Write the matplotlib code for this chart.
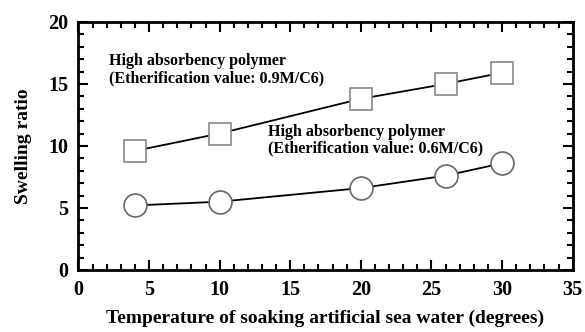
import matplotlib
matplotlib.use("Agg")
import matplotlib.pyplot as plt
from matplotlib.ticker import MultipleLocator

# Data
temperature = [4, 10, 20, 26, 30]
ratio_09 = [9.6, 11.0, 13.8, 15.0, 15.9]
ratio_06 = [5.2, 5.5, 6.6, 7.6, 8.6]

label_09 = "High absorbency polymer\n(Etherification value: 0.9M/C6)"
label_06 = "High absorbency polymer\n(Etherification value: 0.6M/C6)"

plt.rcParams['font.family'] = ['Liberation Serif', 'DejaVu Serif']
plt.rcParams['font.weight'] = 'bold'

fig = plt.figure(figsize=(5.85, 3.32), dpi=100)
ax = fig.add_axes([0.134, 0.187, 0.845, 0.747])

ax.plot(temperature, ratio_09, color='black', lw=1.3, marker='s', ms=16,
        mfc='white', mec='#888888', mew=1.2, zorder=3)
ax.plot(temperature, ratio_06, color='black', lw=1.3, marker='o', ms=16.5,
        mfc='white', mec='#666666', mew=1.2, zorder=3)

ax.text(2.2, 17.5, label_09, fontsize=11.5, fontweight='bold', va='top',
        linespacing=1.1)
ax.text(13.4, 11.8, label_06, fontsize=11.5, fontweight='bold', va='top',
        linespacing=1.1)

ax.set_xlim(0, 35)
ax.set_ylim(0, 20)
ax.xaxis.set_major_locator(MultipleLocator(5))
ax.xaxis.set_minor_locator(MultipleLocator(1))
ax.yaxis.set_major_locator(MultipleLocator(5))
ax.yaxis.set_minor_locator(MultipleLocator(1))
ax.tick_params(which='both', direction='in', top=True, right=True, width=1.5)
ax.tick_params(which='major', length=7, labelsize=14.5, pad=7)
ax.tick_params(which='minor', length=4)
for lab in ax.get_xticklabels() + ax.get_yticklabels():
    lab.set_fontweight('bold')
for s in ax.spines.values():
    s.set_linewidth(2)

ax.set_xlabel("Temperature of soaking artificial sea water (degrees)",
              fontsize=14, fontweight='bold', labelpad=7)
ax.set_ylabel("Swelling ratio", fontsize=14, fontweight='bold', labelpad=12)

fig.savefig("out.png", dpi=100)
